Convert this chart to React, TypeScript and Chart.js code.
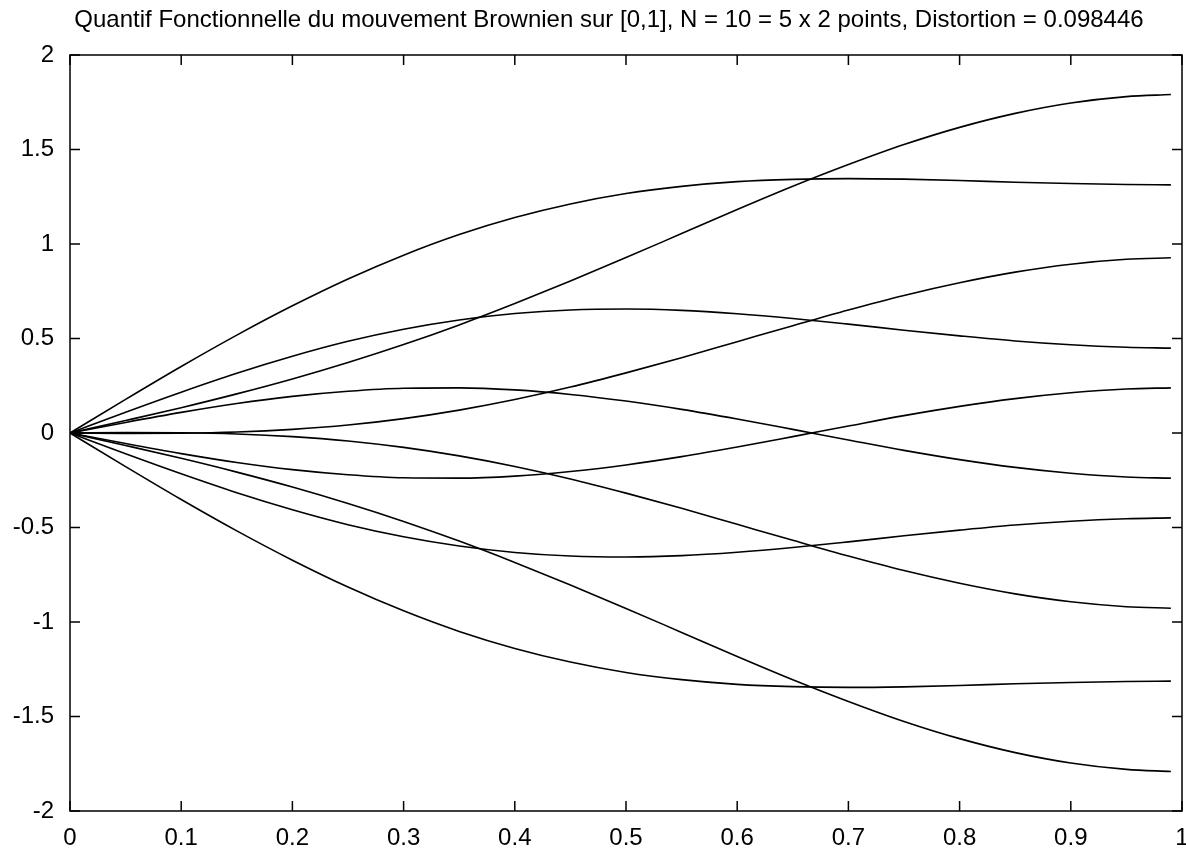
import React, { useEffect, useRef } from "react";
import { Chart, registerables } from "chart.js";

Chart.register(...registerables);

const TITLE =
  "Quantif Fonctionnelle du mouvement Brownien sur [0,1], N = 10 = 5 x 2 points, Distortion = 0.098446";

// time grid (x values)
const T = [0, 0.05, 0.1, 0.15, 0.2, 0.25, 0.3, 0.35, 0.4, 0.45, 0.5, 0.55, 0.6, 0.65, 0.7, 0.75, 0.8, 0.85, 0.9, 0.95, 0.99];

// the 10 quantizer paths (y values)
const PATH_1 = [0, 0.178, 0.352, 0.518, 0.673, 0.815, 0.941, 1.05, 1.14, 1.212, 1.267, 1.305, 1.33, 1.342, 1.346, 1.343, 1.336, 1.327, 1.32, 1.315, 1.313];
const PATH_2 = [0, 0.066, 0.134, 0.207, 0.286, 0.373, 0.468, 0.572, 0.685, 0.804, 0.928, 1.055, 1.182, 1.305, 1.42, 1.526, 1.617, 1.691, 1.746, 1.78, 1.791];
const PATH_3 = [0, 0.11, 0.216, 0.316, 0.406, 0.485, 0.549, 0.598, 0.632, 0.651, 0.656, 0.649, 0.631, 0.606, 0.576, 0.544, 0.514, 0.487, 0.467, 0.454, 0.449];
const PATH_4 = [0, -0.002, -0.001, 0.005, 0.019, 0.042, 0.076, 0.121, 0.177, 0.243, 0.318, 0.398, 0.483, 0.568, 0.651, 0.728, 0.795, 0.851, 0.893, 0.919, 0.927];
const PATH_5 = [0, 0.056, 0.109, 0.156, 0.194, 0.221, 0.237, 0.239, 0.228, 0.204, 0.169, 0.125, 0.074, 0.019, -0.037, -0.092, -0.141, -0.182, -0.213, -0.233, -0.239];
const PATH_6 = [0, -0.056, -0.109, -0.156, -0.194, -0.221, -0.237, -0.239, -0.228, -0.204, -0.169, -0.125, -0.074, -0.019, 0.037, 0.092, 0.141, 0.182, 0.213, 0.233, 0.239];
const PATH_7 = [0, 0.002, 0.001, -0.005, -0.019, -0.042, -0.076, -0.121, -0.177, -0.243, -0.318, -0.398, -0.483, -0.568, -0.651, -0.728, -0.795, -0.851, -0.893, -0.919, -0.927];
const PATH_8 = [0, -0.11, -0.216, -0.316, -0.406, -0.485, -0.549, -0.598, -0.632, -0.651, -0.656, -0.649, -0.631, -0.606, -0.576, -0.544, -0.514, -0.487, -0.467, -0.454, -0.449];
const PATH_9 = [0, -0.066, -0.134, -0.207, -0.286, -0.373, -0.468, -0.572, -0.685, -0.804, -0.928, -1.055, -1.182, -1.305, -1.42, -1.526, -1.617, -1.691, -1.746, -1.78, -1.791];
const PATH_10 = [0, -0.178, -0.352, -0.518, -0.673, -0.815, -0.941, -1.05, -1.14, -1.212, -1.267, -1.305, -1.33, -1.342, -1.346, -1.343, -1.336, -1.327, -1.32, -1.315, -1.313];

const PATHS = [PATH_1, PATH_2, PATH_3, PATH_4, PATH_5, PATH_6, PATH_7, PATH_8, PATH_9, PATH_10];

const X_TICK_LABELS = ["0", "0.1", "0.2", "0.3", "0.4", "0.5", "0.6", "0.7", "0.8", "0.9", "1"];
const Y_TICK_LABELS = ["-2", "-1.5", "-1", "-0.5", "0", "0.5", "1", "1.5", "2"];

const FONT = "'Liberation Sans', Arial, Helvetica, sans-serif";
const FONT_SIZE = 24;

const framePlugin = {
  id: "gnuplotFrame",
  afterDraw(chart: any) {
    const { ctx, chartArea } = chart;
    const { left, right, top, bottom } = chartArea;
    const xs = chart.scales.x;
    const ys = chart.scales.y;
    const TL = 10;
    ctx.save();
    ctx.strokeStyle = "#000";
    ctx.lineWidth = 1.5;
    ctx.beginPath();
    ctx.rect(left, top, right - left, bottom - top);
    ctx.stroke();
    ctx.beginPath();
    xs.ticks.forEach((t: any) => {
      const px = xs.getPixelForValue(t.value);
      ctx.moveTo(px, bottom);
      ctx.lineTo(px, bottom - TL);
      ctx.moveTo(px, top);
      ctx.lineTo(px, top + TL);
    });
    ys.ticks.forEach((t: any) => {
      const py = ys.getPixelForValue(t.value);
      ctx.moveTo(left, py);
      ctx.lineTo(left + TL, py);
      ctx.moveTo(right, py);
      ctx.lineTo(right - TL, py);
    });
    ctx.stroke();
    // title, centred as in the reference
    ctx.fillStyle = "#000";
    ctx.font = `${FONT_SIZE}px ${FONT}`;
    ctx.textAlign = "center";
    ctx.textBaseline = "middle";
    ctx.fillText(TITLE, 609, 20);
    ctx.restore();
  },
};

export default function App() {
  const ref = useRef<HTMLCanvasElement | null>(null);

  useEffect(() => {
    if (!ref.current) return;
    const datasets = PATHS.map((p, i) => ({
      label: `path ${i + 1}`,
      data: T.map((t, j) => ({ x: t, y: p[j] })),
      borderColor: "#000",
      borderWidth: 1.6,
      pointRadius: 0,
      fill: false,
      cubicInterpolationMode: "monotone" as const,
    }));

    const chart = new Chart(ref.current, {
      type: "line",
      data: { datasets },
      plugins: [framePlugin],
      options: {
        animation: false,
        responsive: false,
        layout: { padding: { left: 0, right: 4, top: 55, bottom: 0 } },
        plugins: {
          legend: { display: false },
          tooltip: { enabled: false },
          title: { display: false },
        },
        scales: {
          x: {
            type: "linear",
            min: 0,
            max: 1,
            grid: { display: false },
            border: { display: false },
            ticks: {
              stepSize: 0.1,
              maxRotation: 0,
              autoSkip: false,
              color: "#000",
              padding: 5,
              font: { family: FONT, size: FONT_SIZE },
              callback: (_v: any, i: number) => X_TICK_LABELS[i],
            },
            afterFit: (s: any) => {
              s.height = 37;
              s.paddingLeft = 0;
              s.paddingRight = 0;
            },
          },
          y: {
            type: "linear",
            min: -2,
            max: 2,
            grid: { display: false },
            border: { display: false },
            ticks: {
              stepSize: 0.5,
              autoSkip: false,
              color: "#000",
              padding: 8,
              font: { family: FONT, size: FONT_SIZE },
              callback: (_v: any, i: number) => Y_TICK_LABELS[i],
            },
            afterFit: (s: any) => {
              s.width = 70;
              s.paddingTop = 0;
              s.paddingBottom = 0;
            },
          },
        },
      },
    });
    return () => chart.destroy();
  }, []);

  return (
    <div style={{ position: "absolute", left: 0, top: 0, width: 1186, height: 848, background: "#fff" }}>
      <canvas ref={ref} width={1186} height={848} style={{ display: "block" }} />
    </div>
  );
}
